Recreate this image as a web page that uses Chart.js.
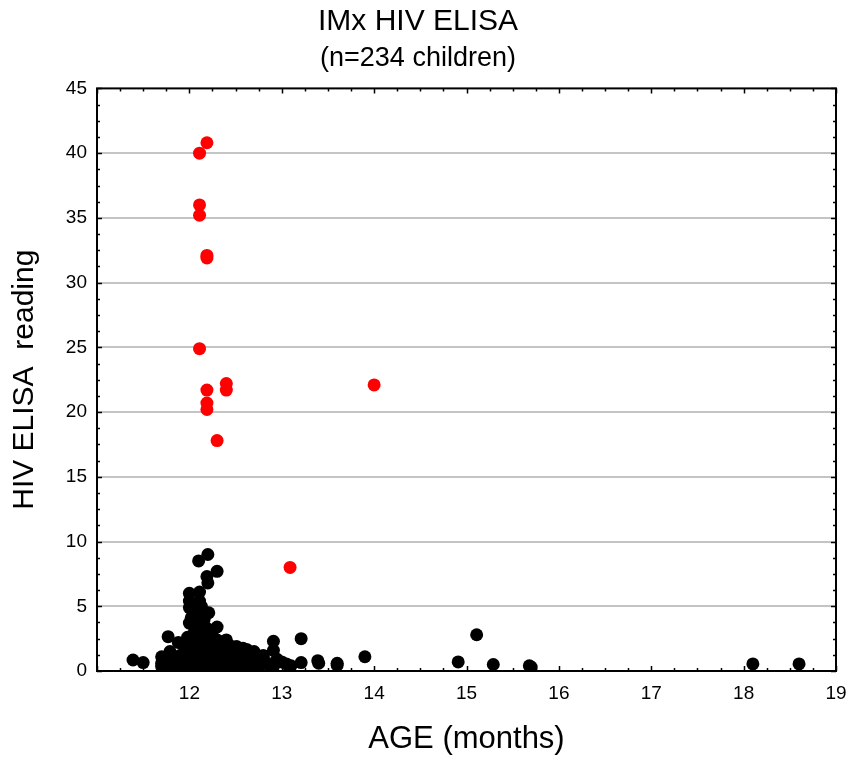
<!DOCTYPE html>
<html>
<head>
<meta charset="utf-8">
<script src="https://cdn.jsdelivr.net/npm/chart.js@4.4.1/dist/chart.umd.min.js"></script>
<style>
  html, body { margin: 0; background: #fff; }
</style>
</head>
<body>
<canvas id="elisaChart" width="850" height="758"></canvas>
<script>
// HIV-positive children (red)
const agePos = [12.19, 12.11, 12.11, 12.11, 12.19, 12.19, 12.11, 12.40, 12.40, 12.19, 12.19, 12.19, 12.30, 14.00, 13.09];
const readingPos = [40.8, 40.0, 36.0, 35.2, 32.1, 31.9, 24.9, 22.2, 21.7, 21.7, 20.7, 20.2, 17.8, 22.1, 8.0];

// HIV-negative children (black)
const ageNeg = [
  11.39, 11.50, 11.70, 11.70, 11.70, 11.77, 11.79, 11.88, 12.00, 12.00, 12.00, 12.00,
  12.11, 12.11, 12.11, 12.11, 12.12, 12.10, 12.20, 12.30, 12.19, 12.20, 12.30, 12.40,
  12.51, 12.58, 12.70, 12.69, 12.69, 12.80, 12.80, 12.91, 12.91, 12.91, 12.91, 13.00,
  13.10, 13.21, 13.21, 13.39, 13.40, 13.60, 13.60, 13.90, 14.91, 15.11, 15.29, 15.68,
  15.70, 18.10, 18.60,
  11.75, 11.80, 11.85, 11.90, 11.92, 11.95, 11.95, 11.98, 12.00, 12.00, 12.00, 12.00,
  12.03, 12.05, 12.05, 12.07, 12.08, 12.10, 12.10, 12.10, 12.12, 12.13, 12.15, 12.15,
  12.17, 12.18, 12.19, 12.20, 12.20, 12.20, 12.20, 12.22, 12.23, 12.25, 12.25, 12.27,
  12.28, 12.30, 12.30, 12.32, 12.33, 12.35, 12.36, 12.38, 12.40, 12.42, 12.43, 12.45,
  12.47, 12.50, 12.50, 12.53, 12.55, 12.58, 12.60, 12.62, 12.65, 12.72, 12.75, 12.78,
  12.85, 12.95, 13.05, 12.10, 12.10, 12.15, 12.20, 12.05, 12.25, 12.62, 12.71,
  12.14, 12.16, 12.06, 12.24, 12.02, 12.21, 12.13, 12.26
];
const readingNeg = [
  0.85, 0.65, 1.10, 0.60, 0.35, 2.65, 1.50, 2.20, 6.00, 5.40, 4.90, 3.70,
  6.10, 5.40, 4.70, 3.80, 4.30, 8.50, 9.00, 7.70, 7.30, 6.80, 3.40, 2.40,
  1.90, 1.75, 1.50, 1.35, 0.85, 1.20, 1.00, 2.30, 1.60, 0.60, 0.35, 0.70,
  0.40, 2.50, 0.65, 0.80, 0.60, 0.60, 0.45, 1.10, 0.70, 2.80, 0.50, 0.40,
  0.30, 0.55, 0.55,
  0.20, 0.80, 0.45, 1.20, 0.30, 0.70, 1.80, 2.60, 0.15, 1.00, 1.50, 2.30,
  0.50, 1.30, 2.90, 0.20, 0.90, 1.60, 2.10, 3.10, 0.40, 1.20, 2.50, 0.10,
  0.70, 1.80, 3.30, 0.30, 1.00, 1.40, 2.20, 0.55, 2.80, 1.10, 1.90, 0.20,
  0.80, 1.50, 2.40, 0.40, 1.00, 1.80, 0.15, 0.70, 1.30, 0.35, 2.00, 0.90,
  1.50, 0.25, 1.20, 0.60, 1.00, 0.30, 0.80, 1.40, 0.40, 0.60, 0.30, 0.80,
  0.50, 0.90, 0.55, 0.50, 0.30, 0.60, 0.50, 0.80, 0.40, 1.67, 0.85,
  3.60, 4.00, 3.20, 3.00, 4.10, 4.50, 5.00, 2.60
];

const yTicks = [0, 5, 10, 15, 20, 25, 30, 35, 40, 45];
const xMinorStep = 0.25;
const yMinorStep = 1.25;

const toPoints = (xs, ys) => xs.map((v, i) => ({ x: v, y: ys[i] }));

// frame on all four sides with small inward tick marks
const frameTicks = {
    id: 'frameTicks',
    afterDatasetsDraw(chart) {
        const { ctx, chartArea: a, scales: { x, y } } = chart;
        ctx.save();
        ctx.strokeStyle = '#000';
        ctx.lineWidth = 1.5;
        ctx.beginPath();
        for (let v = x.min; v <= x.max + 1e-6; v += xMinorStep) {
            const px = Math.round(x.getPixelForValue(v)) + 0.5;
            const len = Math.abs(v - Math.round(v)) < 1e-6 ? 5 : 3;
            ctx.moveTo(px, a.bottom); ctx.lineTo(px, a.bottom - len);
            ctx.moveTo(px, a.top); ctx.lineTo(px, a.top + len);
        }
        for (let v = y.min; v <= y.max + 1e-6; v += yMinorStep) {
            const py = Math.round(y.getPixelForValue(v)) + 0.5;
            const len = Math.abs(v / 5 - Math.round(v / 5)) < 1e-6 ? 5 : 3;
            ctx.moveTo(a.left, py); ctx.lineTo(a.left + len, py);
            ctx.moveTo(a.right, py); ctx.lineTo(a.right - len, py);
        }
        ctx.stroke();
        ctx.lineWidth = 2;
        ctx.strokeRect(a.left, a.top, a.right - a.left, a.bottom - a.top);
        ctx.restore();
    }
};

Chart.defaults.font.family = '"Liberation Sans", Arial, sans-serif';
Chart.defaults.color = '#000';

new Chart(document.getElementById('elisaChart'), {
    type: 'scatter',
    data: {
        datasets: [
            {
                label: 'Negative',
                data: toPoints(ageNeg, readingNeg),
                backgroundColor: '#000',
                borderColor: '#000',
                borderWidth: 0,
                pointRadius: 6.5,
                pointHoverRadius: 6.5
            },
            {
                label: 'Positive',
                data: toPoints(agePos, readingPos),
                backgroundColor: '#ff0000',
                borderColor: '#ff0000',
                borderWidth: 0,
                pointRadius: 6.5,
                pointHoverRadius: 6.5
            }
        ]
    },
    options: {
        responsive: false,
        animation: false,
        layout: { padding: { left: 0, right: 14, top: 0, bottom: 0 } },
        plugins: {
            legend: { display: false },
            tooltip: { enabled: false },
            title: {
                display: true,
                text: 'IMx HIV ELISA',
                font: { size: 30, weight: 'normal' },
                padding: { top: 4, bottom: 2 }
            },
            subtitle: {
                display: true,
                text: '(n=234 children)',
                font: { size: 27 },
                color: '#000',
                padding: { top: 0, bottom: 14 }
            }
        },
        scales: {
            x: {
                type: 'linear',
                min: 11,
                max: 19,
                afterFit: s => { s.height = 87; s.paddingLeft = 0; s.paddingRight = 0; },
                border: { display: false },
                grid: { display: false, drawTicks: false },
                ticks: {
                    stepSize: 1,
                    padding: 11,
                    font: { size: 19 },
                    callback: v => (v === 11 ? '' : v)
                },
                title: {
                    display: true,
                    text: 'AGE (months)',
                    font: { size: 31 },
                    padding: { top: 0, bottom: 0 }
                }
            },
            y: {
                min: 0,
                max: 45,
                afterFit: s => { s.width = 97; s.paddingTop = 0; s.paddingBottom = 0; },
                afterBuildTicks: s => { s.ticks = yTicks.map(v => ({ value: v })); },
                border: { display: false },
                grid: {
                    drawTicks: false,
                    lineWidth: 2,
                    color: c => (c.tick && (c.tick.value === 0 || c.tick.value === 45)) ? 'rgba(0,0,0,0)' : '#c4c4c4'
                },
                ticks: { padding: 10, font: { size: 19 } },
                title: {
                    display: true,
                    text: 'HIV ELISA  reading',
                    font: { size: 30 },
                    padding: { top: 7, bottom: 0 }
                }
            }
        }
    },
    plugins: [frameTicks]
});
</script>
</body>
</html>
